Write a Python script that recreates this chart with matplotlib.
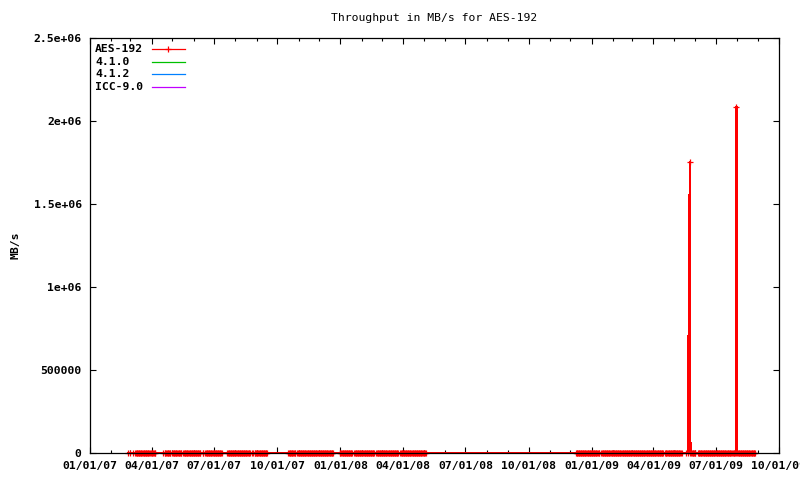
import numpy as np
import matplotlib
matplotlib.use("Agg")
import matplotlib.pyplot as plt
import matplotlib.dates as mdates
from matplotlib.lines import Line2D

# ---- data ----
title = "Throughput in MB/s for AES-192"
ylabel = "MB/s"
series_names = ["AES-192", "4.1.0", "4.1.2", "ICC-9.0"]
series_colors = ["#ff0000", "#00c000", "#0080ff", "#c000ff"]

# runs of daily measurements (all near zero throughput)
run_starts = ["2007-02-26", "2007-02-28", "2007-03-04", "2007-03-08", "2007-03-30",
              "2007-04-18", "2007-04-20", "2007-05-01", "2007-05-17", "2007-06-14",
              "2007-06-18", "2007-07-20", "2007-08-25", "2007-08-29", "2007-10-17",
              "2007-10-30", "2007-12-31", "2008-01-21", "2008-02-22", "2008-03-28",
              "2008-12-09", "2009-01-15", "2009-04-18", "2009-05-18", "2009-05-21",
              "2009-05-24", "2009-06-05", "2009-07-26"]
run_ends = ["2007-02-26", "2007-02-28", "2007-03-04", "2007-03-28", "2007-04-06",
            "2007-04-18", "2007-04-28", "2007-05-14", "2007-06-11", "2007-06-15",
            "2007-07-12", "2007-08-22", "2007-08-26", "2007-09-16", "2007-10-27",
            "2007-12-21", "2008-01-18", "2008-02-19", "2008-03-25", "2008-05-04",
            "2009-01-12", "2009-04-15", "2009-05-12", "2009-05-18", "2009-05-21",
            "2009-06-01", "2009-07-24", "2009-08-27"]
baseline_value = 0.0

spike_dates = ["2009-05-24", "2009-07-31"]
spike_values = [1755000, 2086000]

x_tick_labels = ["01/01/07", "04/01/07", "07/01/07", "10/01/07", "01/01/08", "04/01/08",
                 "07/01/08", "10/01/08", "01/01/09", "04/01/09", "07/01/09", "10/01/09"]
y_ticks = [0, 500000, 1000000, 1500000, 2000000, 2500000]
y_tick_labels = ["0", "500000", "1e+06", "1.5e+06", "2e+06", "2.5e+06"]

# ---- build series ----
vals = {}
for s, e in zip(run_starts, run_ends):
    for d in np.arange(np.datetime64(s), np.datetime64(e) + np.timedelta64(1, "D")):
        vals[d] = baseline_value
for d, v in zip(spike_dates, spike_values):
    vals[np.datetime64(d)] = v
days = sorted(vals.keys())
xs = np.array(days, dtype="datetime64[D]")
ys = np.array([vals[d] for d in days])

# ---- figure ----
W, H = 800, 480
fig = plt.figure(figsize=(W / 100, H / 100), dpi=100)
L, R, T, B = 90, 779, 38, 453
ax = fig.add_axes([L / W, 1 - B / H, (R - L) / W, (B - T) / H])

mono = "DejaVu Sans Mono"
fs = 8.2

ax.plot(xs, ys, color=series_colors[0], lw=0.8, marker="+", ms=5, mew=0.9,
        clip_on=False, zorder=2, antialiased=False)

ax.set_xlim(np.datetime64("2007-01-01"), np.datetime64("2009-10-01"))
ax.set_ylim(0, 2500000)

major = [np.datetime64(f"{2007 + i // 4}-{(i % 4) * 3 + 1:02d}-01") for i in range(12)]
ax.set_xticks(major)
ax.set_xticklabels(x_tick_labels, fontfamily=mono, fontsize=fs, fontweight="bold")
ax.xaxis.set_minor_locator(mdates.MonthLocator())
ax.set_yticks(y_ticks)
ax.set_yticklabels(y_tick_labels, fontfamily=mono, fontsize=fs, fontweight="bold")

ax.tick_params(which="major", direction="in", length=4.5, width=0.8, top=True, right=True,
               pad=6, colors="black")
ax.tick_params(which="minor", direction="in", length=2, width=0.8, top=True, right=False)
ax.tick_params(axis="y", which="minor", left=False, right=False)
for sp in ax.spines.values():
    sp.set_linewidth(0.9)
    sp.set_zorder(3)

fig.text((L + R) / 2 / W, 1 - 18 / H, title, ha="center", va="center",
         fontfamily=mono, fontsize=fs)
fig.text(15 / W, 1 - 245 / H, ylabel, rotation=90, ha="center", va="center",
         fontfamily=mono, fontsize=fs, fontweight="bold")

# legend (gnuplot style: left-justified text, sample on the right)
row_y = [49, 61.7, 74.3, 87]
for name, col, py in zip(series_names, series_colors, row_y):
    fig.text(95 / W, 1 - py / H, name, ha="left", va="center",
             fontfamily=mono, fontsize=fs, fontweight="bold")
    fig.add_artist(Line2D([151.5 / W, 185 / W], [1 - py / H, 1 - py / H],
                          color=col, lw=0.9, transform=fig.transFigure))
fig.add_artist(Line2D([168.3 / W], [1 - row_y[0] / H], color=series_colors[0],
                      marker="+", ms=5, mew=0.9, ls="none", transform=fig.transFigure))

fig.savefig("out.png", dpi=100)
